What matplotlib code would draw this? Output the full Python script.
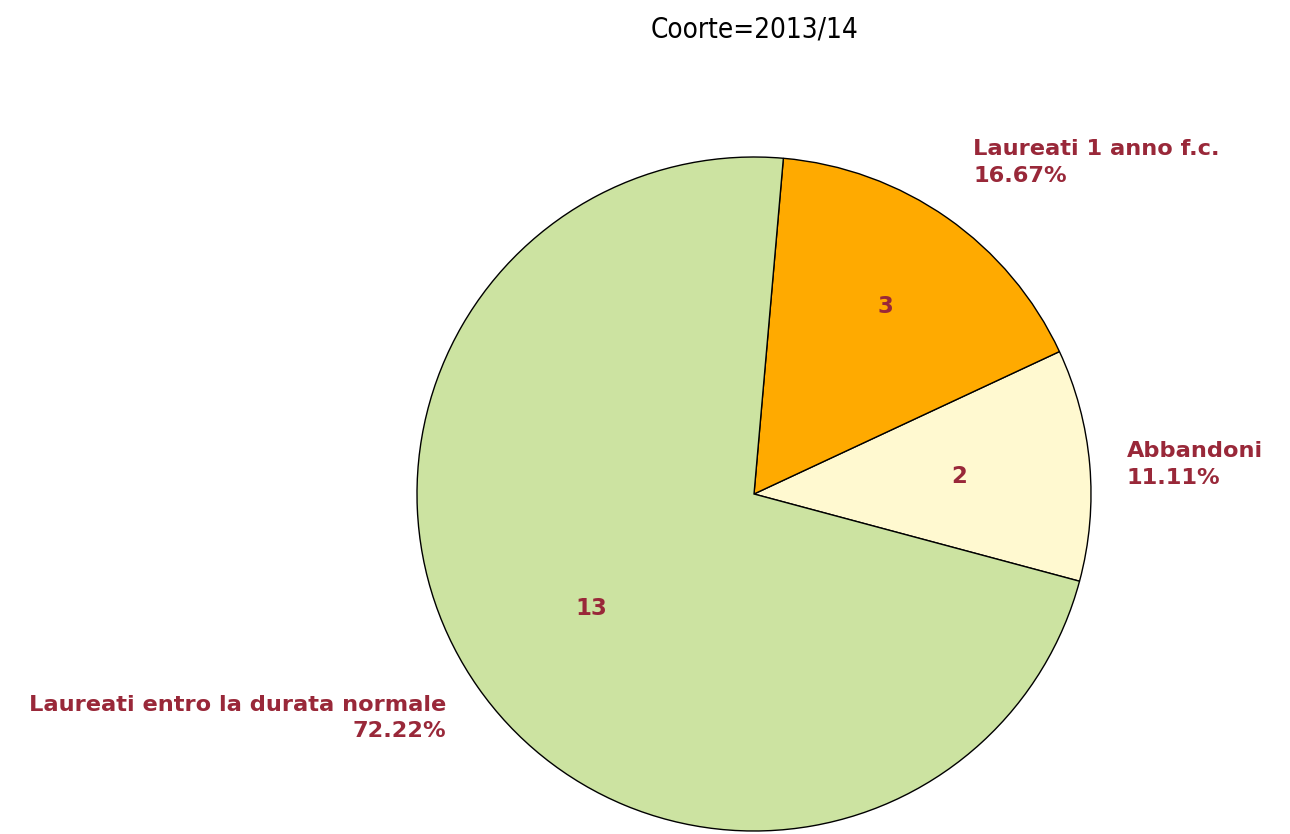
import numpy as np
import matplotlib.pyplot as plt

categorie = ["Abbandoni", "Laureati 1 anno f.c.", "Laureati entro la durata normale"]
valori = [2, 3, 13]
colori = ["#FFF9D0", "#FFAA00", "#CCE3A1"]
testo_col = "#992839"

fig = plt.figure(figsize=(12.9, 8.34), dpi=100)
ax = fig.add_axes([0, 0, 1, 1])

cx, cy, r = 754, 340, 337
wedges, _ = ax.pie(valori, colors=colori, startangle=-15, counterclock=True,
                   center=(cx, cy), radius=r, frame=True,
                   wedgeprops=dict(edgecolor="black", linewidth=1.0))
ax.set_xlim(0, 1290)
ax.set_ylim(0, 834)
ax.axis("off")

tot = sum(valori)
in_dist = [0.61, 0.68, 0.59]
out_dist = [1.11, 1.18, 1.13]
out_ang = [4.5, 56.5, 216]
for i, w in enumerate(wedges):
    mid = np.deg2rad((w.theta1 + w.theta2) / 2)
    ax.text(cx + in_dist[i] * r * np.cos(mid), cy + in_dist[i] * r * np.sin(mid),
            str(valori[i]), ha="center", va="center", color=testo_col,
            fontsize=16.5, fontweight="bold", family="DejaVu Sans")
    a = np.deg2rad(out_ang[i])
    x = cx + out_dist[i] * r * np.cos(a)
    y = cy + out_dist[i] * r * np.sin(a)
    pct = "%.2f%%" % (100.0 * valori[i] / tot)
    ha = "left" if np.cos(a) > 0 else "right"
    ax.text(x, y, categorie[i] + "\n" + pct, ha=ha, va="center", ma=ha,
            color=testo_col, fontsize=16.2, fontweight="bold",
            family="DejaVu Sans", linespacing=1.4)

ax.text(755, 834 - 29, "Coorte=2013/14", ha="center", va="center",
        fontsize=20, family="DejaVu Sans", fontstretch="condensed",
        fontweight="light", color="black")

fig.savefig("out.png", dpi=100)
